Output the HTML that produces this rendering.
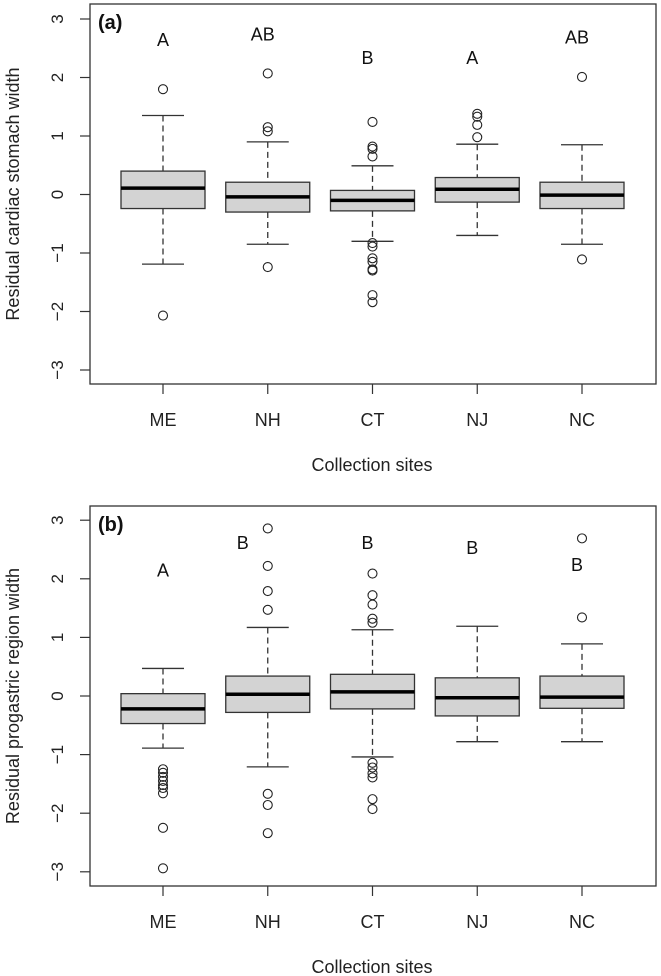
<!DOCTYPE html>
<html><head><meta charset="utf-8"><style>
html,body{margin:0;padding:0;background:#fff;}
svg{display:block;font-family:"Liberation Sans",Arial,sans-serif;}
</style></head><body>
<svg id="chart" width="661" height="976" viewBox="0 0 661 976"></svg>
<script>
const categories = ["ME","NH","CT","NJ","NC"];
// panel a: [lowWhisker, q1, median, q3, highWhisker]
const statsA = [[-1.19,-0.24,0.11,0.40,1.35],[-0.85,-0.30,-0.04,0.21,0.90],[-0.80,-0.28,-0.10,0.07,0.49],[-0.70,-0.13,0.09,0.29,0.86],[-0.85,-0.24,-0.01,0.21,0.85]];
const outliersA = [[1.80,-2.07],[2.07,1.15,1.08,-1.24],[1.24,0.82,0.78,0.65,-0.83,-0.89,-1.09,-1.15,-1.28,-1.30,-1.72,-1.84],[1.38,1.33,1.19,0.98],[2.01,-1.11]];
const lettersA = ["A","AB","B","A","AB"];
const letterYA = [2.66,2.75,2.35,2.35,2.70];
const statsB = [[-0.89,-0.47,-0.22,0.04,0.47],[-1.21,-0.28,0.03,0.34,1.17],[-1.04,-0.22,0.07,0.37,1.13],[-0.78,-0.34,-0.03,0.31,1.19],[-0.78,-0.21,-0.02,0.34,0.89]];
const outliersB = [[-1.25,-1.31,-1.38,-1.45,-1.52,-1.57,-1.66,-2.25,-2.94],[2.86,2.22,1.79,1.47,-1.67,-1.86,-2.34],[2.09,1.72,1.56,1.32,1.25,-1.14,-1.22,-1.32,-1.39,-1.76,-1.93],[],[2.69,1.34]];
const lettersB = ["A","B","B","B","B"];
const letterYB = [2.16,2.63,2.63,2.54,2.25];
const yTicks = [-3,-2,-1,0,1,2,3];

const NS="http://www.w3.org/2000/svg";
const svg=document.getElementById('chart');
function mk(tag,attrs,parent,text){const e=document.createElementNS(NS,tag);for(const k in attrs)e.setAttribute(k,attrs[k]);if(text!==undefined)e.textContent=text;(parent||svg).appendChild(e);return e;}

function panel(cfg){
  const g=mk('g',{});
  
  
  const left=90,right=656,top=cfg.top,bottom=cfg.bottom;
  const y=v=>cfg.y0-v*cfg.unit;
  const x=i=>163+i*104.75;
  const frame=mk('rect',{x:left,y:top,width:right-left,height:bottom-top,fill:'none',stroke:'#333','stroke-width':1.3},g);
  
  
  yTicks.forEach(t=>{
    mk('line',{x1:80,x2:left,y1:y(t),y2:y(t),stroke:'#333','stroke-width':1.2},g);
    const tl=mk('text',{x:0,y:0,transform:`translate(63,${y(t)}) rotate(-90)`,'text-anchor':'middle','font-size':17,fill:'#222'},g,t<0?'\u2212'+(-t):String(t));
    
    
  });
  const yt=mk('text',{transform:`translate(19,${(top+bottom)/2}) rotate(-90)`,'text-anchor':'middle','font-size':18,fill:'#222'},g,cfg.ytitle);
  
  
  const xt=mk('text',{x:372,y:bottom+87,'text-anchor':'middle','font-size':18,fill:'#222'},g,'Collection sites');
  
  
  const pl=mk('text',{x:98,y:top+25,'font-size':20,'font-weight':'bold',fill:'#111'},g,cfg.label);
  
  
  categories.forEach((c,i)=>{
    const cx=x(i), s=cfg.stats[i];
    mk('line',{x1:cx,x2:cx,y1:bottom,y2:bottom+10,stroke:'#333','stroke-width':1.2},g);
    const cl=mk('text',{x:cx,y:bottom+42,'text-anchor':'middle','font-size':18,fill:'#222'},g,c);
    
    
    const bg=mk('g',{},g);
    
    
    mk('line',{x1:cx,x2:cx,y1:y(s[4]),y2:y(s[3]),stroke:'#333','stroke-width':1.3,'stroke-dasharray':'6,4'},bg);
    mk('line',{x1:cx,x2:cx,y1:y(s[1]),y2:y(s[0]),stroke:'#333','stroke-width':1.3,'stroke-dasharray':'6,4'},bg);
    mk('line',{x1:cx-21,x2:cx+21,y1:y(s[4]),y2:y(s[4]),stroke:'#333','stroke-width':1.3},bg);
    mk('line',{x1:cx-21,x2:cx+21,y1:y(s[0]),y2:y(s[0]),stroke:'#333','stroke-width':1.3},bg);
    mk('rect',{x:cx-42,y:y(s[3]),width:84,height:y(s[1])-y(s[3]),fill:'#d3d3d3',stroke:'#333','stroke-width':1.3},bg);
    mk('line',{x1:cx-42,x2:cx+42,y1:y(s[2]),y2:y(s[2]),stroke:'#000','stroke-width':3.5},bg);
    cfg.out[i].forEach(v=>{
      const o=mk('circle',{cx:cx,cy:y(v),r:4.5,fill:'none',stroke:'#222','stroke-width':1.1},bg);
      
      
    });
    const dx=(cfg.name==='panel-b'&&i===1)?-25:(i===0?0:-5);
    const lt=mk('text',{x:cx+dx,y:y(cfg.ly[i])+7,'text-anchor':'middle','font-size':18,fill:'#111'},g,cfg.letters[i]);
    
    
  });
}
panel({name:'panel-a',top:4,bottom:384,y0:194.5,unit:58.5,stats:statsA,out:outliersA,letters:lettersA,ly:letterYA,label:'(a)',ytitle:'Residual cardiac stomach width'});
panel({name:'panel-b',top:506,bottom:886,y0:696,unit:58.6,stats:statsB,out:outliersB,letters:lettersB,ly:letterYB,label:'(b)',ytitle:'Residual progastric region width'});
</script>
</body></html>
